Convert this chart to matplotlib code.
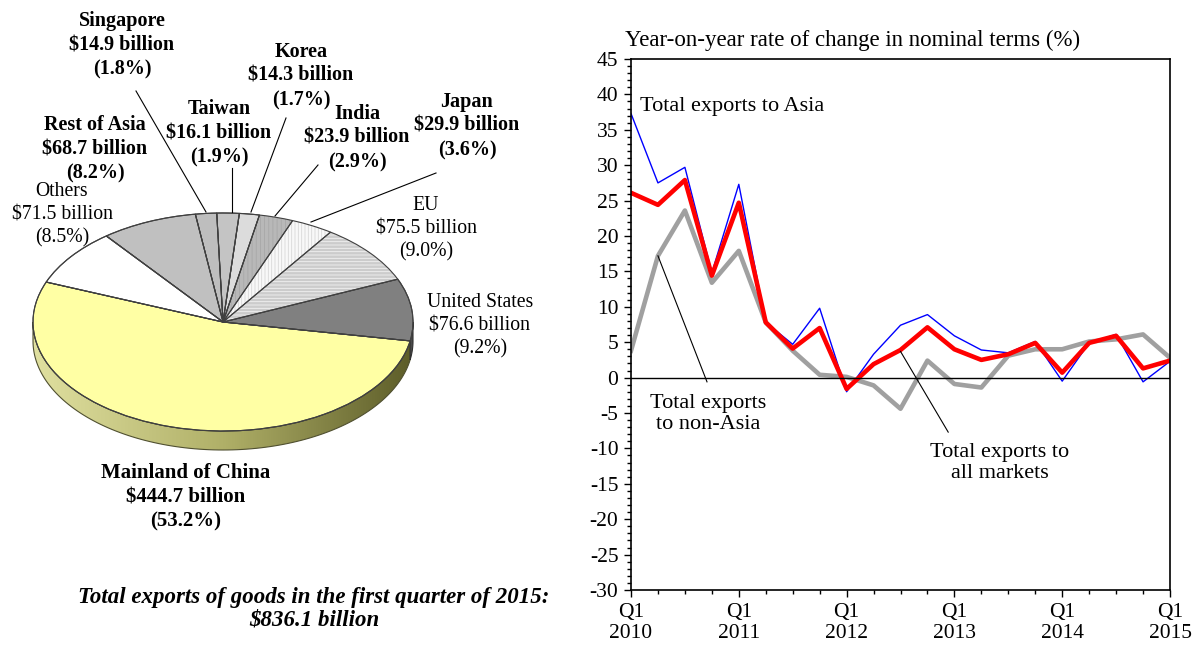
import numpy as np
import matplotlib
matplotlib.use('Agg')
import matplotlib.pyplot as plt
from matplotlib.patches import Polygon
from matplotlib.ticker import MultipleLocator
from matplotlib.colors import LinearSegmentedColormap

plt.rcParams['font.family'] = ['Liberation Serif', 'DejaVu Serif']
plt.rcParams['hatch.linewidth'] = 0.6
plt.rcParams['axes.unicode_minus'] = False

# pie: total exports by market, Q1 2015
markets = ['Mainland of China', 'United States', 'EU', 'Japan', 'India',
           'Korea', 'Taiwan', 'Singapore', 'Rest of Asia', 'Others']
values_bn = [444.7, 76.6, 75.5, 29.9, 23.9, 14.3, 16.1, 14.9, 68.7, 71.5]
shares = [53.2, 9.2, 9.0, 3.6, 2.9, 1.7, 1.9, 1.8, 8.2, 8.5]
total_bn = 836.1

# line chart: year-on-year change (%), Q1 2010 .. Q1 2015
quarters = list(range(21))
asia = [37.3, 27.5, 29.7, 14.8, 27.3, 7.8, 4.7, 9.8, -2.0, 3.3, 7.4,
        8.9, 5.9, 3.9, 3.5, 5.1, -0.5, 4.9, 6.1, -0.6, 2.3]
all_markets = [26.1, 24.4, 27.9, 14.4, 24.7, 7.8, 4.1, 7.0, -1.6, 1.9, 3.9,
               7.1, 4.0, 2.5, 3.3, 4.9, 0.7, 4.9, 5.9, 1.3, 2.4]
non_asia = [3.8, 17.2, 23.6, 13.4, 17.9, 7.8, 3.8, 0.4, 0.1, -1.1, -4.4,
            2.4, -0.9, -1.4, 3.1, 4.0, 4.0, 5.1, 5.4, 6.1, 2.8]
year_labels = ['Q1\n2010', 'Q1\n2011', 'Q1\n2012', 'Q1\n2013', 'Q1\n2014', 'Q1\n2015']

W, H = 1192, 650
fig = plt.figure(figsize=(W / 100, H / 100), dpi=100)


def fx(px):
    return px / W


def fy(py):
    return 1 - py / H


# ---------------- pie (drawn as a tilted 3D disc) ----------------
AX_W = 600
RX, RY = 190.0, 109.0   # ellipse half axes in pixels
ax_p = fig.add_axes([0, 0, AX_W / W, 1])


def px2d(x, y):
    return x / RX, (H - y) / RY


cx, cy = px2d(223, 322)
depth = 19 / RY
start = 158.5

top_colors = ['#FFFFA4', '#808080', '#CCCCCC', '#F8F8F8', '#B8B8B8',
              '#DCDCDC', '#C4C4C4', '#BEBEBE', '#C0C0C0', '#FFFFFF']

# side of the disc: gradient under China, dark gray under the US
t_china_end = start + shares[0] * 3.6
t = np.radians(np.linspace(180, min(t_china_end, 360), 120))
side = np.concatenate([
    np.column_stack([cx + np.cos(t), cy + np.sin(t)]),
    np.column_stack([cx + np.cos(t[::-1]), cy + np.sin(t[::-1]) - depth])])
side_patch = Polygon(side, closed=True, facecolor='none', edgecolor='#505030', lw=0.8, zorder=2)
ax_p.add_patch(side_patch)
grad = np.linspace(0, 1, 256).reshape(1, -1)
olive = LinearSegmentedColormap.from_list('olive', ['#E0E0A0', '#B0B068', '#5C5C28'])
im = ax_p.imshow(grad, cmap=olive, extent=(cx - 1, cx + 1, cy - 1 - depth, cy),
                 aspect='auto', zorder=1)
im.set_clip_path(side_patch)

t2 = np.radians(np.linspace(t_china_end, 360, 20))
side_us = np.concatenate([
    np.column_stack([cx + np.cos(t2), cy + np.sin(t2)]),
    np.column_stack([cx + np.cos(t2[::-1]), cy + np.sin(t2[::-1]) - depth])])
ax_p.add_patch(Polygon(side_us, closed=True, facecolor='#4A4A4A', edgecolor='#303030',
                       lw=0.8, zorder=2))

wedges, _ = ax_p.pie(shares, colors=top_colors, startangle=start, counterclock=True,
                     center=(cx, cy), radius=1,
                     wedgeprops=dict(edgecolor='#404040', linewidth=0.8))
for w in wedges:
    w.set_zorder(3)
hatch_map = {2: '-----', 3: '|||||', 4: '||||'}
hatch_col = {2: '#F2F2F2', 3: '#D8D8D8', 4: '#A8A8A8'}
for i, h in hatch_map.items():
    wedges[i].set_hatch(h)
    wedges[i].set_edgecolor(hatch_col[i])
    wedges[i].set_linewidth(0)
# outlines on top of the hatched slices
outline, _ = ax_p.pie(shares, colors=['none'] * len(shares), startangle=start,
                      counterclock=True, center=(cx, cy), radius=1,
                      wedgeprops=dict(edgecolor='#404040', linewidth=0.8, fill=False))
for w in outline:
    w.set_zorder(4)

ax_p.set_xlim(0, AX_W / RX)
ax_p.set_ylim(0, H / RY)
ax_p.set_aspect('auto')
ax_p.axis('off')

# leader lines for the small slices
leaders = {
    'Singapore': ((136, 91), (206, 212)),
    'Taiwan': ((232, 168), (232, 212)),
    'Korea': ((286, 118), (251, 212)),
    'India': ((318, 165), (275, 216)),
    'Japan': ((436, 173), (311, 222)),
}
for name, (p0, p1) in leaders.items():
    x0, y0 = px2d(*p0)
    x1, y1 = px2d(*p1)
    ax_p.plot([x0, x1], [y0, y1], color='black', lw=0.8, zorder=5)

# label positions (pixel centre of the middle line), weight, size
label_pos = {
    'Mainland of China': (186, 497, 'bold', 15),
    'United States': (480, 326, 'normal', 14.2),
    'EU': (426, 229, 'normal', 14.2),
    'Japan': (467, 126, 'bold', 14.5),
    'India': (357, 138, 'bold', 14.5),
    'Korea': (301, 76, 'bold', 14.5),
    'Taiwan': (219, 133, 'bold', 14.5),
    'Singapore': (122, 45, 'bold', 14.5),
    'Rest of Asia': (95, 149, 'bold', 14.5),
    'Others': (62, 215, 'normal', 14.2),
}
for name, v, s in zip(markets, values_bn, shares):
    x, y, wt, fs = label_pos[name]
    fig.text(fx(x), fy(y), f'{name}\n${v} billion\n({s}%)', ha='center', va='center',
             fontsize=fs, fontweight=wt, linespacing=1.28)

fig.text(fx(314), fy(609),
         f'Total exports of goods in the first quarter of 2015:\n${total_bn} billion',
         ha='center', va='center', fontsize=16.5, fontweight='bold', fontstyle='italic',
         linespacing=1.1)

# ---------------- line chart ----------------
ax = fig.add_axes([fx(631), fy(590), (1170 - 631) / W, (590 - 59) / H])
ax.plot(quarters, non_asia, color='#A0A0A0', lw=3.3)
ax.plot(quarters, asia, color='#0000FF', lw=1.0)
ax.plot(quarters, all_markets, color='#FF0000', lw=3.3)
ax.axhline(0, color='black', lw=1.0)

ax.set_xlim(0, 20)
ax.set_ylim(-30, 45)
ax.set_yticks(range(-30, 46, 5))
ax.yaxis.set_minor_locator(MultipleLocator(1))
ax.set_xticks(range(0, 21, 4), year_labels)
ax.xaxis.set_minor_locator(MultipleLocator(1))
ax.tick_params(which='major', direction='out', length=5, width=1.0, labelsize=15.5, pad=4)
ax.tick_params(which='minor', direction='out', length=3, width=1.0)
for lab in ax.get_xticklabels():
    lab.set_linespacing(1.15)
for sp in ax.spines.values():
    sp.set_linewidth(1.2)

ax.plot([1.0, 2.82], [17.2, -0.6], color='black', lw=0.8)
ax.plot([10.0, 11.77], [3.7, -7.7], color='black', lw=0.8)

fig.text(fx(625), fy(40), 'Year-on-year rate of change in nominal terms (%)',
         ha='left', va='center', fontsize=16.5)
fig.text(fx(640), fy(107), 'Total exports to Asia', ha='left', va='center', fontsize=16)
fig.text(fx(708), fy(414), 'Total exports\nto non-Asia', ha='center', va='center',
         fontsize=16, linespacing=1.1)
fig.text(fx(1000), fy(463), 'Total exports to\nall markets', ha='center', va='center',
         fontsize=16, linespacing=1.1)

fig.savefig('out.png', dpi=100)
